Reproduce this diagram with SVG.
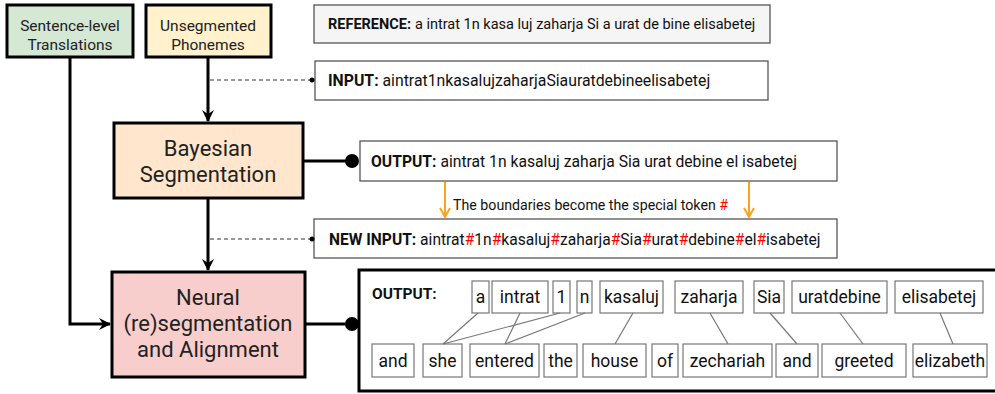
<svg xmlns="http://www.w3.org/2000/svg" width="995" height="394" viewBox="0 0 995 394">
<style>
.main{stroke:#000;stroke-width:3}
.lbl{font-family:Roboto,"Liberation Sans",sans-serif;fill:#222;text-anchor:middle}
.tb{fill:#fff;stroke:#555;stroke-width:1.3}
.t{font-family:Roboto,"Liberation Sans",sans-serif;fill:#111}
.b{font-weight:bold}
.r{fill:#ff0000}
.wb{fill:#fff;stroke:#777;stroke-width:1.2}
.w{font-family:Roboto,"Liberation Sans",sans-serif;font-size:17.5px;fill:#111;text-anchor:middle}
.al{stroke:#777;stroke-width:1.2;fill:none}
.ln{stroke:#000;stroke-width:3;fill:none}
.ds{stroke:#333;stroke-width:1.2;stroke-dasharray:4 3;fill:none}
.or{stroke:#ffa020;stroke-width:2;fill:none}
</style>
<defs>
<marker id="ah" markerWidth="12" markerHeight="12" refX="11" refY="6" orient="auto" markerUnits="userSpaceOnUse">
<path d="M0,0 L12,6 L0,12 L4,6 z" fill="#000"/>
</marker>
<marker id="oh" markerWidth="12" markerHeight="12" refX="6" refY="11" orient="0" markerUnits="userSpaceOnUse">
<path d="M1,2 L6,11 L11,2" fill="none" stroke="#ffa020" stroke-width="2"/>
</marker>
</defs>
<g id="sentence-level">
<rect x="7" y="5" width="126" height="52" fill="#d5e8d4" class="main"/>
<text class="lbl" font-size="15.5" x="70" y="31">Sentence-level</text>
<text class="lbl" font-size="15.5" x="70" y="50">Translations</text>
</g>
<g id="unsegmented">
<rect x="146" y="5" width="125" height="52" fill="#fff2cc" class="main"/>
<text class="lbl" font-size="15.5" x="208" y="31">Unsegmented</text>
<text class="lbl" font-size="15.5" x="208" y="50">Phonemes</text>
</g>
<g id="bayesian">
<rect x="114" y="123" width="189" height="75" fill="#ffe6cc" class="main"/>
<text class="lbl" font-size="22" x="208" y="156">Bayesian</text>
<text class="lbl" font-size="22" x="208" y="182">Segmentation</text>
</g>
<g id="neural">
<rect x="112" y="272" width="193" height="105" fill="#f8cecc" class="main"/>
<text class="lbl" font-size="22" x="208" y="305">Neural</text>
<text class="lbl" font-size="22" x="208" y="331">(re)segmentation</text>
<text class="lbl" font-size="22" x="208" y="357">and Alignment</text>
</g>
<g id="reference">
<rect x="314" y="5" width="456" height="38" fill="#f5f5f5" stroke="#555" stroke-width="1.3"/>
<text class="t" font-size="14.5" x="328" y="29"><tspan class="b">REFERENCE:</tspan><tspan dx="4">a intrat 1n kasa luj zaharja Si a urat de bine elisabetej</tspan></text>
</g>
<g id="input">
<rect x="315" y="61" width="453" height="39" class="tb"/>
<text class="t" font-size="15.8" x="328" y="86"><tspan class="b">INPUT:</tspan> aintrat1nkasalujzaharjaSiauratdebineelisabetej</text>
</g>
<g id="output1">
<rect x="360" y="141" width="477" height="40" class="tb"/>
<text class="t" font-size="15.7" x="371" y="167"><tspan class="b">OUTPUT:</tspan> aintrat 1n kasaluj zaharja Sia urat debine el isabetej</text>
</g>
<g id="boundary-label">
<text class="t" font-size="14.2" x="453" y="210">The boundaries become the special token <tspan class="r">#</tspan></text>
</g>
<g id="new-input">
<rect x="314" y="219" width="523" height="39" class="tb"/>
<text class="t" font-size="15.6" x="329" y="245"><tspan class="b">NEW INPUT:</tspan> aintrat<tspan class="r">#</tspan>1n<tspan class="r">#</tspan>kasaluj<tspan class="r">#</tspan>zaharja<tspan class="r">#</tspan>Sia<tspan class="r">#</tspan>urat<tspan class="r">#</tspan>debine<tspan class="r">#</tspan>el<tspan class="r">#</tspan>isabetej</text>
</g>
<g id="output2">
<rect x="359" y="270" width="650" height="121" fill="#fff" class="main"/>
<text class="t b" font-size="15.5" x="372" y="299">OUTPUT:</text>
<g id="seg-words">
<rect class="wb" x="472" y="281" width="17" height="32"/><text class="w" x="480.5" y="303">a</text>
<rect class="wb" x="492" y="281" width="56" height="32"/><text class="w" x="520" y="303">intrat</text>
<rect class="wb" x="553" y="281" width="17" height="32"/><text class="w" x="561.5" y="303">1</text>
<rect class="wb" x="577" y="281" width="15" height="32"/><text class="w" x="584.5" y="303">n</text>
<rect class="wb" x="600" y="281" width="63" height="32"/><text class="w" x="631.5" y="303">kasaluj</text>
<rect class="wb" x="675" y="281" width="68" height="32"/><text class="w" x="709" y="303">zaharja</text>
<rect class="wb" x="754" y="281" width="30" height="32"/><text class="w" x="769" y="303">Sia</text>
<rect class="wb" x="792" y="281" width="95" height="32"/><text class="w" x="839.5" y="303">uratdebine</text>
<rect class="wb" x="895" y="281" width="88" height="32"/><text class="w" x="939" y="303">elisabetej</text>
</g>
<g id="eng-words">
<rect class="wb" x="372" y="344" width="42" height="33"/><text class="w" x="393" y="367">and</text>
<rect class="wb" x="423" y="344" width="39" height="33"/><text class="w" x="442.5" y="367">she</text>
<rect class="wb" x="470" y="344" width="69" height="33"/><text class="w" x="504.5" y="367">entered</text>
<rect class="wb" x="544" y="344" width="33" height="33"/><text class="w" x="560.5" y="367">the</text>
<rect class="wb" x="583" y="344" width="63" height="33"/><text class="w" x="614.5" y="367">house</text>
<rect class="wb" x="652" y="344" width="26" height="33"/><text class="w" x="665" y="367">of</text>
<rect class="wb" x="683" y="344" width="89" height="33"/><text class="w" x="727.5" y="367">zechariah</text>
<rect class="wb" x="776" y="344" width="42" height="33"/><text class="w" x="797" y="367">and</text>
<rect class="wb" x="822" y="344" width="84" height="33"/><text class="w" x="864" y="367">greeted</text>
<rect class="wb" x="913" y="344" width="74" height="33"/><text class="w" x="950" y="367">elizabeth</text>
</g>
</g>
<g id="connectors">
<path class="ln" d="M70,57 V324 H110" marker-end="url(#ah)"/>
<path class="ln" d="M208,57 V121" marker-end="url(#ah)"/>
<path class="ln" d="M208,199 V270" marker-end="url(#ah)"/>
<path class="ds" d="M210,80 H312"/>
<circle cx="312" cy="80" r="2.5" fill="#000"/>
<path class="ds" d="M210,239 H312"/>
<circle cx="312" cy="239" r="2.5" fill="#000"/>
<path class="ln" d="M303,161 H352"/>
<circle cx="352" cy="161" r="7" fill="#000"/>
<path class="ln" d="M305,324 H352"/>
<circle cx="352" cy="324" r="7" fill="#000"/>
<path class="or" d="M445,182 V217" marker-end="url(#oh)"/>
<path class="or" d="M749,182 V217" marker-end="url(#oh)"/>
<g class="al">
<path d="M478,313 L443,344"/>
<path d="M560,313 L443,344"/>
<path d="M520,313 L505,344"/>
<path d="M585,313 L505,344"/>
<path d="M633,313 L615,344"/>
<path d="M710,313 L728,344"/>
<path d="M770,313 L797,344"/>
<path d="M840,313 L863,344"/>
<path d="M940,313 L953,344"/>
</g>
</g>
</svg>
